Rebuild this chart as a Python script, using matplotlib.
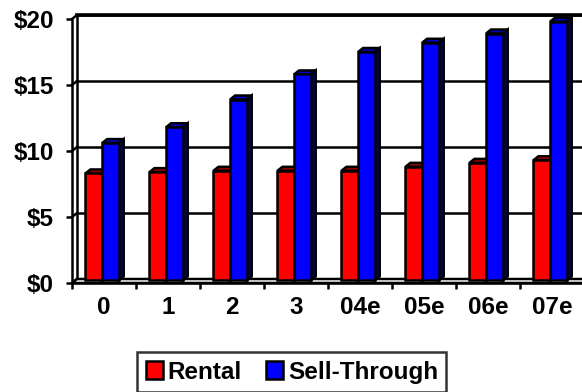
import matplotlib.pyplot as plt
from matplotlib.patches import Polygon

plt.rcParams['font.family'] = ['Liberation Sans', 'DejaVu Sans']
plt.rcParams['font.weight'] = 'bold'

# values in $ per title
years = ['0', '1', '2', '3', '04e', '05e', '06e', '07e']
rental = [8.1, 8.2, 8.3, 8.3, 8.3, 8.6, 8.9, 9.1]
sell_through = [10.4, 11.6, 13.7, 15.6, 17.3, 18.0, 18.7, 19.6]
y_ticks = [0, 5, 10, 15, 20]
y_labels = ['$0', '$5', '$10', '$15', '$20']

fig = plt.figure(figsize=(5.82, 3.92), dpi=100)
W, H = 582, 392
ax = fig.add_axes([72 / W, (H - 283) / H, 512 / W, 264 / H])
n = len(years)
ax.set_xlim(-0.5, n - 0.5)
ax.set_ylim(0, 20)

# depth of the 3d box in data units (5px right, 4px up)
dx = 5 / 64
dy = 4 / 13.2
lw = 1.8
fs = 17.5

# back wall gridlines + left wall
for v in y_ticks:
    ax.plot([-0.5 + dx, n - 0.5 + dx], [v + dy, v + dy], color='black', lw=lw,
            clip_on=False, zorder=1, solid_capstyle='butt')
    ax.plot([-0.5, -0.5 + dx], [v, v + dy], color='black', lw=lw, clip_on=False, zorder=1)
ax.plot([-0.5 + dx, -0.5 + dx], [dy, 20 + dy], color='black', lw=lw, clip_on=False, zorder=1)
ax.plot([-0.5 + dx, n - 0.5 + dx], [20 + dy, 20 + dy], color='black', lw=2.6,
        clip_on=False, zorder=1)

# floor
floor = Polygon([(-0.5, 0), (n - 0.5, 0), (n - 0.5 + dx, dy), (-0.5 + dx, dy)],
                closed=True, facecolor='white', edgecolor='black', lw=lw,
                clip_on=False, zorder=1)
ax.add_patch(floor)

bw = 0.26
bottom = 0.2
series = [
    (rental, -0.16, '#FF0000', '#990000', '#800000', 'Rental'),
    (sell_through, 0.10, '#0000FF', '#0000CC', '#000080', 'Sell-Through'),
]
handles = []
for i in range(n):
    for k, (vals, off, front, top, side, name) in enumerate(series):
        z = 3 + i * 2 + k
        x0 = i + off - bw / 2
        x1 = x0 + bw
        y1 = bottom + vals[i]
        b = ax.bar(i + off, vals[i], width=bw, bottom=bottom, color=front,
                   edgecolor='black', lw=lw, zorder=z + 0.5, clip_on=False,
                   label=name if i == 0 else None)
        if i == 0:
            handles.append(b)
        ax.add_patch(Polygon([(x0, y1), (x1, y1), (x1 + dx, y1 + dy), (x0 + dx, y1 + dy)],
                             closed=True, facecolor=top, edgecolor='black', lw=lw,
                             clip_on=False, zorder=z))
        ax.add_patch(Polygon([(x1, bottom), (x1 + dx, bottom + dy), (x1 + dx, y1 + dy), (x1, y1)],
                             closed=True, facecolor=side, edgecolor='black', lw=lw,
                             clip_on=False, zorder=z))

# axes
for s in ['top', 'right']:
    ax.spines[s].set_visible(False)
for s in ['left', 'bottom']:
    ax.spines[s].set_linewidth(lw)
    ax.spines[s].set_zorder(2)
ax.set_facecolor('none')

ax.set_yticks(y_ticks)
ax.set_yticklabels(y_labels)
ax.tick_params(axis='y', length=4, width=lw, pad=9, labelsize=fs)
ax.set_xticks([i - 0.5 for i in range(n + 1)])
ax.set_xticklabels([])
ax.set_xticks(range(n), minor=True)
ax.set_xticklabels(years, minor=True)
ax.tick_params(axis='x', which='major', length=4, width=lw)
ax.tick_params(axis='x', which='minor', length=0, pad=9, labelsize=fs)

leg = fig.legend(handles=handles, loc='upper left',
                 bbox_to_anchor=(137 / W, 1 - 352 / H), ncol=2,
                 prop={'size': fs, 'weight': 'bold'}, frameon=True, fancybox=False,
                 handlelength=0.7, handleheight=0.7, handletextpad=0.2,
                 columnspacing=1.0, borderpad=0.35, borderaxespad=0)
leg.get_frame().set_edgecolor('black')
leg.get_frame().set_linewidth(lw)

fig.savefig('out.png', dpi=100)
